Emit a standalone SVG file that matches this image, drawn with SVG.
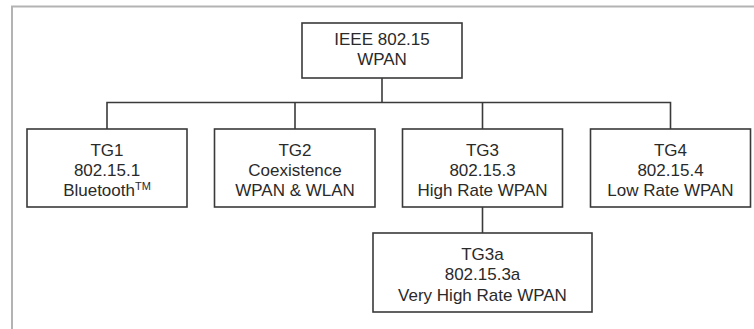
<svg xmlns="http://www.w3.org/2000/svg" width="754" height="329" viewBox="0 0 754 329">
<style>
.box{fill:#fff;stroke:#3a3a3a;stroke-width:1.6}
.ln{fill:none;stroke:#3a3a3a;stroke-width:1.6}
.t{font-family:"Liberation Sans",Arial,sans-serif;font-size:17px;fill:#2a2a2a;text-anchor:middle}
.sup{font-size:11px}
</style>
<rect width="754" height="329" fill="#fff"/>
<path d="M12 329 V6.5 H754" fill="none" stroke="#b3b3b3" stroke-width="2"/>
<g id="connectors">
<path class="ln" d="M382 78 V102.5"/>
<path class="ln" d="M107 129 V102.5 H670.5 V129"/>
<path class="ln" d="M295 102.5 V129"/>
<path class="ln" d="M482.5 102.5 V129"/>
<path class="ln" d="M482.5 207 V233"/>
</g>
<g id="ieee">
<rect class="box" x="302" y="23" width="160" height="55"/>
<text class="t" x="382" y="44.5">IEEE 802.15</text>
<text class="t" x="382" y="65">WPAN</text>
</g>
<g id="tg1">
<rect class="box" x="27" y="129" width="160" height="78"/>
<text class="t" x="107" y="155.7">TG1</text>
<text class="t" x="107" y="176">802.15.1</text>
<text class="t" x="107" y="196.3">Bluetooth<tspan class="sup" dy="-6">TM</tspan></text>
</g>
<g id="tg2">
<rect class="box" x="214.5" y="129" width="160.5" height="78"/>
<text class="t" x="295" y="155.7">TG2</text>
<text class="t" x="295" y="176">Coexistence</text>
<text class="t" x="295" y="196.3">WPAN &amp; WLAN</text>
</g>
<g id="tg3">
<rect class="box" x="402.5" y="129" width="160" height="78"/>
<text class="t" x="482.5" y="155.7">TG3</text>
<text class="t" x="482.5" y="176">802.15.3</text>
<text class="t" x="482.5" y="196.3">High Rate WPAN</text>
</g>
<g id="tg4">
<rect class="box" x="590.5" y="129" width="160" height="78"/>
<text class="t" x="670.5" y="155.7">TG4</text>
<text class="t" x="670.5" y="176">802.15.4</text>
<text class="t" x="670.5" y="196.3">Low Rate WPAN</text>
</g>
<g id="tg3a">
<rect class="box" x="373" y="233" width="219" height="79"/>
<text class="t" x="482.5" y="259.5">TG3a</text>
<text class="t" x="482.5" y="280">802.15.3a</text>
<text class="t" x="482.5" y="300.5">Very High Rate WPAN</text>
</g>
</svg>
